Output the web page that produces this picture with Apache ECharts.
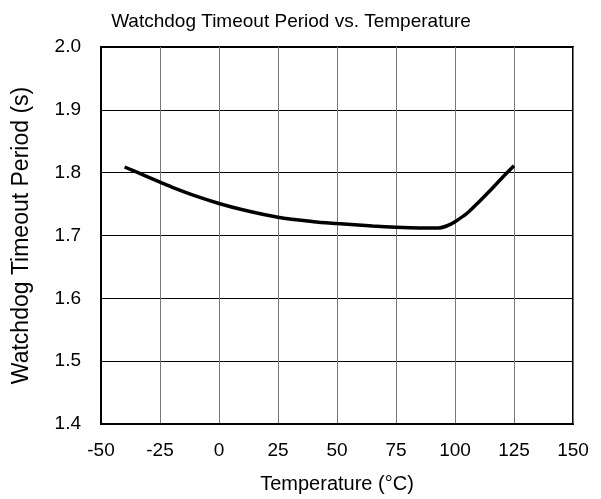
<!DOCTYPE html>
<html>
<head>
<meta charset="utf-8">
<script src="https://cdn.jsdelivr.net/npm/echarts@6/dist/echarts.min.js"></script>
<style>
  html, body { margin: 0; padding: 0; background: #fff; }
  #chart { width: 601px; height: 499px; }
</style>
</head>
<body>
<div id="chart"></div>
<script>
const temperature = [-40, -30, -25, -20, -10, 0, 10, 25, 40, 50, 65, 75, 85, 90, 93, 97, 100, 105, 110, 115, 120, 125];
const timeoutPeriod = [1.809, 1.793, 1.785, 1.777, 1.763, 1.751, 1.741, 1.729, 1.722, 1.719, 1.715, 1.713, 1.712, 1.712, 1.712, 1.716, 1.722, 1.735, 1.753, 1.772, 1.792, 1.811];
const xTicks = [-50, 150, 25];
const yTicks = [1.4, 2.0, 0.1];

const chart = echarts.init(document.getElementById("chart"));
const font = "Liberation Sans, Arial, sans-serif";

chart.setOption({
  animation: false,
  title: {
    text: "Watchdog Timeout Period vs. Temperature",
    left: 286,
    top: 7,
    textAlign: "center",
    textStyle: { fontFamily: font, fontSize: 19, fontWeight: "normal", color: "#000" },
  },
  grid: {
    left: 101,
    right: 28,
    top: 47,
    bottom: 74,
    show: true,
    borderColor: "#000",
    borderWidth: 2,
  },
  xAxis: {
    type: "value",
    min: xTicks[0],
    max: xTicks[1],
    interval: xTicks[2],
    name: "Temperature (°C)",
    nameLocation: "middle",
    nameGap: 50,
    nameTextStyle: { fontFamily: font, fontSize: 20, color: "#000" },
    axisLine: { show: true, onZero: false, lineStyle: { color: "#000", width: 2 } },
    axisTick: { show: false },
    axisLabel: { fontFamily: font, fontSize: 19, color: "#000", margin: 17 },
    splitLine: { show: true, lineStyle: { color: "#777", width: 1 } },
  },
  yAxis: {
    type: "value",
    min: yTicks[0],
    max: yTicks[1],
    interval: yTicks[2],
    name: "Watchdog Timeout Period (s)",
    nameLocation: "middle",
    nameGap: 68,
    nameTextStyle: { fontFamily: font, fontSize: 23, color: "#000" },
    axisLine: { show: true, onZero: false, lineStyle: { color: "#000", width: 2 } },
    axisTick: { show: false },
    axisLabel: {
      fontFamily: font,
      fontSize: 19,
      color: "#000",
      margin: 20,
      formatter: (v) => v.toFixed(1),
    },
    splitLine: { show: true, lineStyle: { color: "#000", width: 1 } },
  },
  series: [
    {
      type: "line",
      data: temperature.map((t, i) => [t, timeoutPeriod[i]]),
      smooth: 0.3,
      showSymbol: false,
      lineStyle: { color: "#000", width: 3.5 },
    },
  ],
});
</script>
</body>
</html>
